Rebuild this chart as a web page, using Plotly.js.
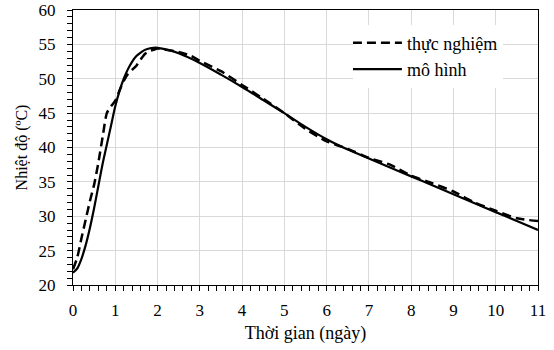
<!DOCTYPE html>
<html>
<head>
<meta charset="utf-8">
<script src="https://cdn.plot.ly/plotly-3.0.1.min.js"></script>
<style>html,body{margin:0;padding:0;background:#fff;}#chart{width:554px;height:350px;}</style>
</head>
<body>
<div id="chart"></div>
<script>
// Experimental (thực nghiệm)
const expDays = [0,0.1,0.2,0.3,0.4,0.5,0.6,0.7,0.8,0.9,1.0,1.1,1.2,1.3,1.4,1.5,1.6,1.7,1.8,1.9,2.0,2.2,2.5,2.8,3.0,3.5,4,4.5,5,5.5,6,6.5,7,7.5,8,8.5,9,9.5,10,10.5,11];
const expTemp = [22.3,24.0,26.8,29.5,32.2,34.6,37.8,41.5,45.0,46.0,46.8,48.3,49.7,50.7,51.3,51.9,52.8,53.6,54.0,54.2,54.4,54.2,53.9,53.3,52.6,51.1,49.1,47.1,45.0,42.7,40.9,39.8,38.5,37.5,35.9,34.8,33.6,32.0,30.8,29.7,29.3];
// Model (mô hình)
const modDays = [0,0.1,0.2,0.3,0.4,0.5,0.6,0.7,0.8,0.9,1.0,1.1,1.2,1.3,1.4,1.5,1.6,1.7,1.8,1.9,2.0,2.25,2.5,3,3.5,4,4.5,5,5.5,6,6.5,7,7.5,8,8.5,9,9.5,10,10.5,11];
const modTemp = [21.8,22.4,23.8,25.8,28.3,31.2,34.4,37.6,40.4,43.2,46.0,48.2,50.0,51.4,52.5,53.3,53.8,54.2,54.4,54.5,54.5,54.2,53.7,52.3,50.6,48.8,46.9,45.0,43.0,41.2,39.7,38.4,37.1,35.8,34.5,33.2,31.9,30.6,29.3,28.0];
const seriesNames = ["thực nghiệm", "mô hình"];

const FAM = "Liberation Serif";
function f(size) { return {family: FAM, size: size, color: "#000"}; }

const traces = [
  {x: expDays, y: expTemp, name: seriesNames[0], legendgroup: "a", type: "scatter", mode: "lines",
   line: {color: "#000", width: 2.5, dash: "9px,5px", shape: "spline", smoothing: 0.6}},
  {x: modDays, y: modTemp, name: seriesNames[1], legendgroup: "b", type: "scatter", mode: "lines",
   line: {color: "#000", width: 2.2, shape: "spline", smoothing: 0.8}}
];

const layout = {
  width: 554, height: 350,
  margin: {l: 73, r: 16, t: 10, b: 65},
  paper_bgcolor: "#fff", plot_bgcolor: "#fff",
  font: f(16),
  showlegend: true,
  legend: {x: 0.602, y: 0.947, xanchor: "left", yanchor: "top", bgcolor: "#fff",
           font: f(18), tracegroupgap: 21, traceorder: "normal", itemwidth: 44},
  xaxis: {
    range: [0, 11], dtick: 1, tick0: 0,
    showline: true, linecolor: "#000", linewidth: 1, mirror: true,
    ticks: "outside", ticklen: 5, tickcolor: "#000", ticklabelstandoff: 5,
    showgrid: true, gridcolor: "#d9d9d9", gridwidth: 1, zeroline: false,
    minor: {dtick: 0.2, ticks: "outside", ticklen: 5, tickcolor: "#000", showgrid: false},
    tickfont: f(17),
    title: {text: "Thời gian (ngày)", font: f(18), standoff: 6}
  },
  yaxis: {
    range: [20, 60], dtick: 5, tick0: 20,
    showline: true, linecolor: "#000", linewidth: 1, mirror: true,
    ticks: "outside", ticklen: 5, tickcolor: "#000", ticklabelstandoff: 8,
    showgrid: true, gridcolor: "#d9d9d9", gridwidth: 1, zeroline: false,
    minor: {dtick: 1, ticks: "outside", ticklen: 5, tickcolor: "#000", showgrid: false},
    tickfont: f(17),
    title: {text: "Nhiệt độ (ºC)", font: f(16), standoff: 6}
  }
};

const gd = document.getElementById("chart");
function widenLegendLines() {
  // lengthen legend line samples to match the reference's longer swatches
  gd.querySelectorAll("g.legend path.js-line, g.legend g.legendlines path").forEach(function (p) {
    p.setAttribute("d", "M0,0h49");
  });
}
Plotly.newPlot(gd, traces, layout, {displayModeBar: false, staticPlot: true}).then(function () {
  widenLegendLines();
  gd.on("plotly_afterplot", widenLegendLines);
  setTimeout(widenLegendLines, 50);
});
</script>
</body>
</html>
